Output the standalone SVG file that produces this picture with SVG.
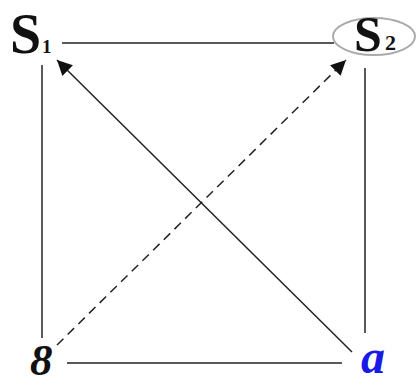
<svg xmlns="http://www.w3.org/2000/svg" width="419" height="385" viewBox="0 0 419 385">
<style>
.e{stroke:#222;stroke-width:1.5;fill:none}
.lbl{font-family:"Liberation Serif",serif;font-weight:bold;fill:#111}
.it{font-style:italic}
</style>
<defs>
<marker id="ah" viewBox="0 0 10 10" refX="10" refY="5" markerWidth="15" markerHeight="15" markerUnits="userSpaceOnUse" orient="auto">
<path d="M0,0 L10,5 L0,10 z" fill="#111"/>
</marker>
</defs>
<rect width="419" height="385" fill="#fff"/>
<g id="connectors">
<line class="e" x1="62" y1="43" x2="334" y2="43"/>
<line class="e" x1="42" y1="65" x2="42" y2="338"/>
<line class="e" x1="365" y1="68" x2="365" y2="333"/>
<line class="e" x1="67" y1="363" x2="342" y2="363"/>
<line class="e" x1="352" y1="352" x2="57" y2="60" marker-end="url(#ah)"/>
<line class="e" x1="57" y1="345" x2="346" y2="60" stroke-dasharray="9 6" marker-end="url(#ah)"/>
</g>
<g id="S1">
<text class="lbl" x="10" y="53" font-size="56">S</text>
<text class="lbl" x="42" y="53" font-size="19">1</text>
</g>
<g id="S2">
<ellipse cx="374" cy="36.5" rx="41" ry="18.5" fill="#fff" stroke="#aaa" stroke-width="2"/>
<text class="lbl" x="354" y="51" font-size="50">S</text>
<text class="lbl" x="385" y="50" font-size="22">2</text>
</g>
<g id="g8">
<text class="lbl it" x="30" y="375" font-size="45">8</text>
</g>
<g id="a">
<text class="lbl it" x="361" y="373" font-size="48" style="fill:#1a1ae6">a</text>
</g>
</svg>
